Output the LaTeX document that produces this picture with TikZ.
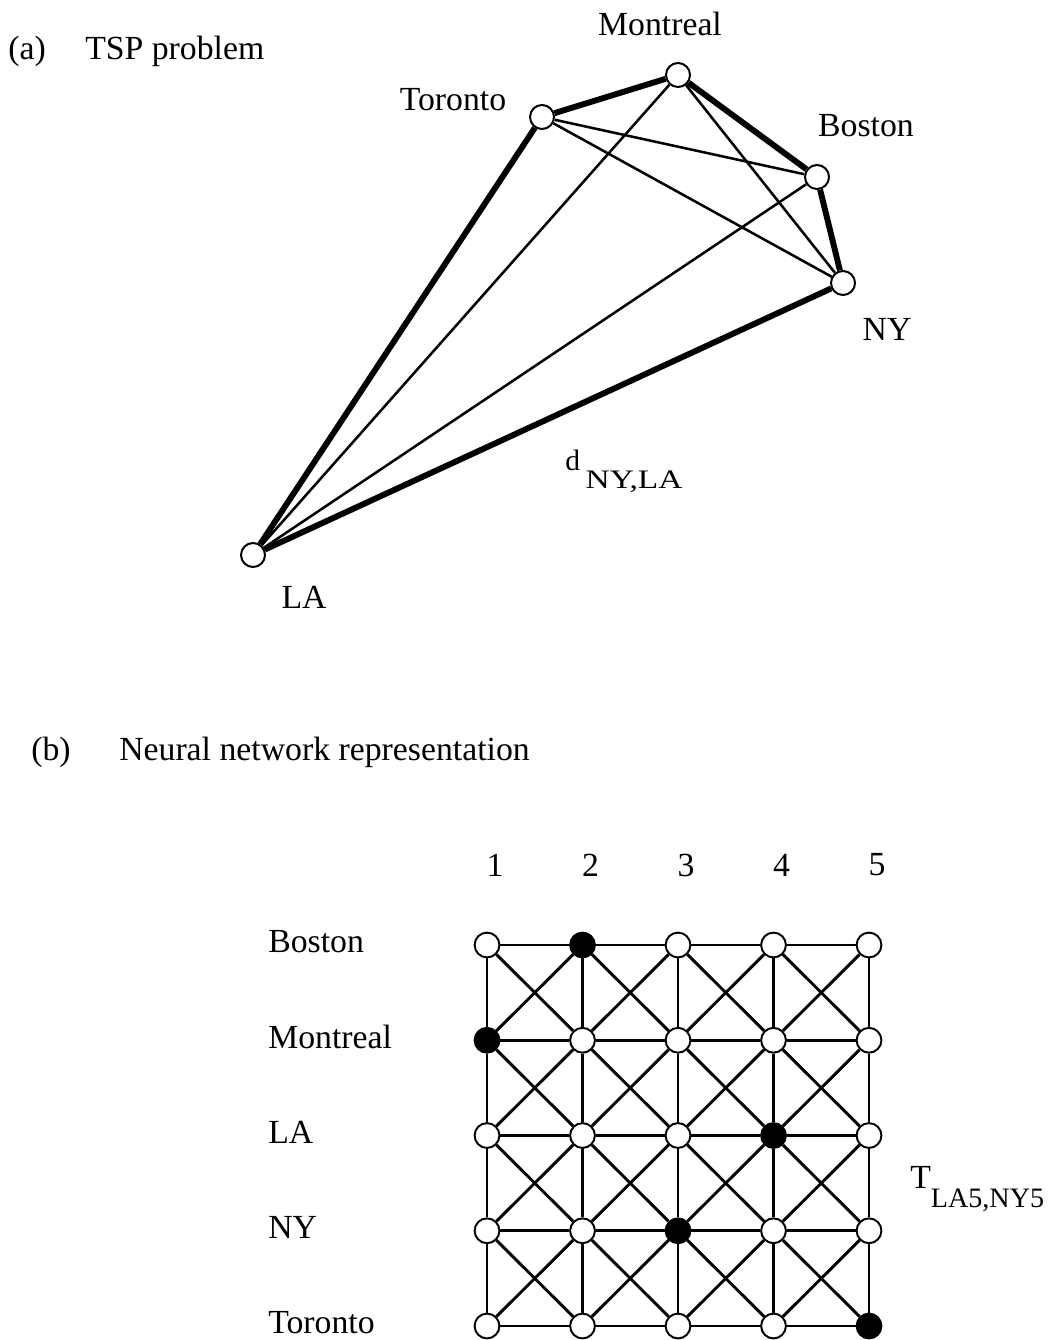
\documentclass[tikz,border=0pt]{standalone}
\usepackage{fontspec}
\setmainfont{Liberation Serif}
\usetikzlibrary{positioning}

\begin{document}
\begin{tikzpicture}[
    x=0.025cm,
    y=-0.025cm,
    font=\fontsize{24}{28}\selectfont,
    city/.style={
        circle,
        draw,
        fill=white,
        line width=1.4pt,
        minimum size=0.6cm,
        inner sep=0pt
    },
    unit/.style={
        city,
        minimum size=0.62cm
    },
    tour/.style={
        draw,
        line width=4.2pt
    },
    edge/.style={
        draw,
        line width=1.8pt
    },
    link/.style={
        draw,
        line width=2.1pt
    },
    lbl/.style={
        inner sep=0pt,
        anchor=base
    }
]
    \useasboundingbox (0,0) rectangle (1055,1340);

    % Headings
    \node [lbl, anchor=base west] (parta) at (8,60) {(a)};
    \node [lbl, anchor=base west] (tspt) at (85,60) {TSP problem};
    \node [lbl, anchor=base west] (partb) at (31,760) {(b)};
    \node [lbl, anchor=base west] (nnt) at (119,760) {Neural network representation};

    % Cities
    \node [city] (mon) at (678,75) {};
    \node [city] (tor) at (542,117) {};
    \node [city] (bos) at (817,177) {};
    \node [city] (ny) at (843,283) {};
    \node [city] (la) at (253,555) {};

    \node [lbl] (monl) at (660,36) {Montreal};
    \node [lbl] (torl) at (453,111) {Toronto};
    \node [lbl] (bosl) at (866,137) {Boston};
    \node [lbl] (nyl) at (887,340) {NY};
    \node [lbl] (lal) at (304,608) {LA};

    % Tour (thick)
    \path [tour] (la) -- (tor);
    \path [tour] (tor) -- (mon);
    \path [tour] (mon) -- (bos);
    \path [tour] (bos) -- (ny);
    \path [tour] (ny) -- (la);

    % Other distances (thin)
    \path [edge] (la) -- (mon);
    \path [edge] (la) -- (bos);
    \path [edge] (tor) -- (bos);
    \path [edge] (tor) -- (ny);
    \path [edge] (mon) -- (ny);

    \node [lbl, anchor=base west] (dist) at (565,470)
        {\fontsize{21}{24}\selectfont d\hspace{4pt}\raisebox{-13.5pt}{\scalebox{1.25}[1]{\fontsize{19}{22}\selectfont NY,LA}}};

    % Network units
    \foreach \r/\rowname/\on in {1/Boston/2, 2/Montreal/1, 3/LA/4, 4/NY/3, 5/Toronto/5} {
        \node [inner sep=0pt, anchor=west] (row\r) at (268,{942+(\r-1)*95.25}) {\rowname};
        \foreach \c in {1,...,5} {
            \ifnum\c=\on \def\fc{black}\else \def\fc{white}\fi
            \node [unit, fill=\fc] (n\r\c) at ({487+(\c-1)*95.5},{945+(\r-1)*95.25}) {};
        }
    }
    \foreach \c in {1,...,5}
        \node (col\c) at ({495+(\c-1)*95.5},865) {\c};

    % Connections
    \foreach \r in {1,...,5} {
        \foreach \c [evaluate=\c as \cn using int(\c+1)] in {1,...,4} {
            \path [link] (n\r\c) -- (n\r\cn);
        }
    }
    \foreach \r [evaluate=\r as \rn using int(\r+1)] in {1,...,4} {
        \foreach \c in {1,...,5}
            \path [link] (n\r\c) -- (n\rn\c);
        \foreach \c [evaluate=\c as \cn using int(\c+1)] in {1,...,4} {
            \path [link] (n\r\c) -- (n\rn\cn);
            \path [link] (n\r\cn) -- (n\rn\c);
        }
    }

    \node [lbl, anchor=base west] (tlbl) at (910,1188)
        {T\raisebox{-14pt}{\fontsize{20}{24}\selectfont LA5,NY5}};

\end{tikzpicture}
\end{document}
